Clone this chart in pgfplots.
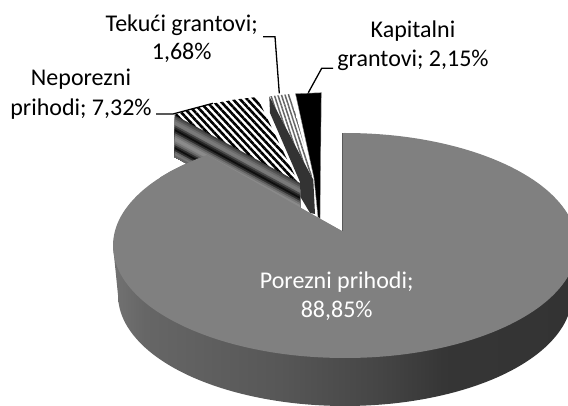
\documentclass[border=0pt]{standalone}
\usepackage{fontspec}
\setmainfont{Carlito}
\usepackage{pgfplots}
\pgfplotsset{compat=1.18}
\usetikzlibrary{patterns.meta}
\pgfdeclarehorizontalshading{sidegrad}{100bp}{color(0bp)=(black!56); color(25bp)=(black!56); color(28bp)=(black!60); color(43bp)=(black!66); color(54bp)=(black!73); color(61bp)=(black!79); color(75bp)=(black!80); color(100bp)=(black!80)}
\newcommand\band[3]{\addplot[draw=none,fill=black!#3] coordinates {(174.5,#1) (300,#2) (300,225) (174.5,157)};}
\begin{document}
\begin{tikzpicture}
\useasboundingbox (0,0) rectangle (568pt,406pt);
\begin{axis}[at={(0,0)},anchor=south west,scale only axis,width=568pt,height=406pt,xmin=0,xmax=568,ymin=0,ymax=406,y dir=reverse,hide axis]
% side of the main slice
\addplot[draw=none,fill=black!56] coordinates {(113,245.5) (118,295) (126,295) (126,245.5)};
\addplot[smooth,tension=0.6,draw=none,shade,shading=sidegrad] coordinates {(345,184) (403.8,187.8) (458.5,198.9) (505.5,216.5) (541.6,239.5) (564.3,266.3) (572,295) (564.3,323.7) (541.6,350.5) (505.5,373.5) (458.5,391.1) (403.8,402.2) (345,406) (286.2,402.2) (231.5,391.1) (184.5,373.5) (148.4,350.5) (125.7,323.7) (118,295) (125.7,266.3) (148.4,239.5) (184.5,216.5) (231.5,198.9) (286.2,187.8) (345,184)};
% top of the main slice
\addplot[smooth,tension=0.6,draw=none,fill=black!50] coordinates {(229,148.1) (284.9,136.8) (345,133) (405.1,136.8) (461,148.1) (509,166) (545.9,189.25) (569.1,216.4) (577,245.5) (569.1,274.6) (545.9,301.75) (509,325) (461,342.9) (405.1,354.2) (345,358) (284.9,354.2) (229,342.9) (181,325) (144.1,301.75) (120.9,274.6) (113,245.5) (120.9,216.4) (144.1,189.25) (181,166) (229,148.1)};
\addplot[draw=none,fill=white] coordinates {(342,231) (342,90) (100,90) (100,97)};
\addplot[black!65,line width=0.6pt] coordinates {(342,133.5) (342,231)};
% Neporezni prihodi: cut face
\band{115}{183}{75}
\band{117}{185}{67}
\band{119}{187}{58}
\band{121}{189}{52}
\band{123}{191}{53}
\band{125}{193}{70}
\band{127}{195}{85}
\band{129}{197}{95}
\band{131}{199}{82}
\band{133}{201}{64}
\band{135}{203}{53}
\band{137}{205}{46}
\band{139}{207}{46}
\band{141}{209}{53}
\band{143}{211}{64}
\band{145}{213}{82}
\band{147}{215}{95}
\band{149}{217}{82}
\band{151}{219}{60}
\band{153}{221}{53}
\band{155}{223}{60}
% Neporezni prihodi: top
\addplot[draw=none,pattern={Lines[angle=-47,distance=5.2pt,line width=2.6pt]},pattern color=black] coordinates {(174,115) (190,109.5) (213,103.5) (235,99.5) (257,97) (298,182)};
% Tekuci grantovi
\addplot[draw=none,fill=white] coordinates {(269.3,96.3) (290.3,94) (313.3,180)};
\addplot[draw=none,pattern={Lines[angle=-72,distance=3.4pt,line width=1.5pt]},pattern color=black!60] coordinates {(269.3,96.3) (290.3,94) (313.3,180)};
\addplot[draw=none,fill=black!80] coordinates {(269.3,96.3) (313.3,180) (315,214) (310,213) (300.5,197) (300,182) (270,113)};
% Kapitalni grantovi
\addplot[draw=black!45,line width=0.4pt,fill=black] coordinates {(295.5,93.7) (321.3,92.7) (320,219) (318,217) (314,178) (295.5,93.7)};
% front part of the main slice over the rest
\addplot[draw=none,fill=black!50] coordinates {(342,231) (207,155) (195,159.7) (181,166) (170,171.6) (160,177.5) (160,260) (342,260)};
% leaders
\addplot[black,line width=1.3pt] coordinates {(156,114) (173,114) (213,103.3)};
\addplot[black,line width=1.3pt] coordinates {(263,36.7) (275,36.7) (279.3,93.3)};
\addplot[black,line width=1.3pt] coordinates {(333,68.3) (321.7,68.3) (308.3,92.7)};
% labels
\node[white,font=\fontsize{24}{28}\selectfont] at (axis cs:336.7,282) {Porezni prihodi;};
\node[white,font=\fontsize{24}{28}\selectfont] at (axis cs:336.7,311) {88,85\%};
\node[font=\fontsize{24}{28}\selectfont] at (axis cs:181.7,25) {Tekući grantovi;};
\node[font=\fontsize{24}{28}\selectfont] at (axis cs:181.7,53) {1,68\%};
\node[font=\fontsize{24}{28}\selectfont] at (axis cs:81,79) {Neporezni};
\node[font=\fontsize{24}{28}\selectfont] at (axis cs:81,109) {prihodi; 7,32\%};
\node[font=\fontsize{24}{28}\selectfont] at (axis cs:413,31) {Kapitalni};
\node[font=\fontsize{24}{28}\selectfont] at (axis cs:413,60) {grantovi; 2,15\%};
\end{axis}
\end{tikzpicture}
\end{document}
